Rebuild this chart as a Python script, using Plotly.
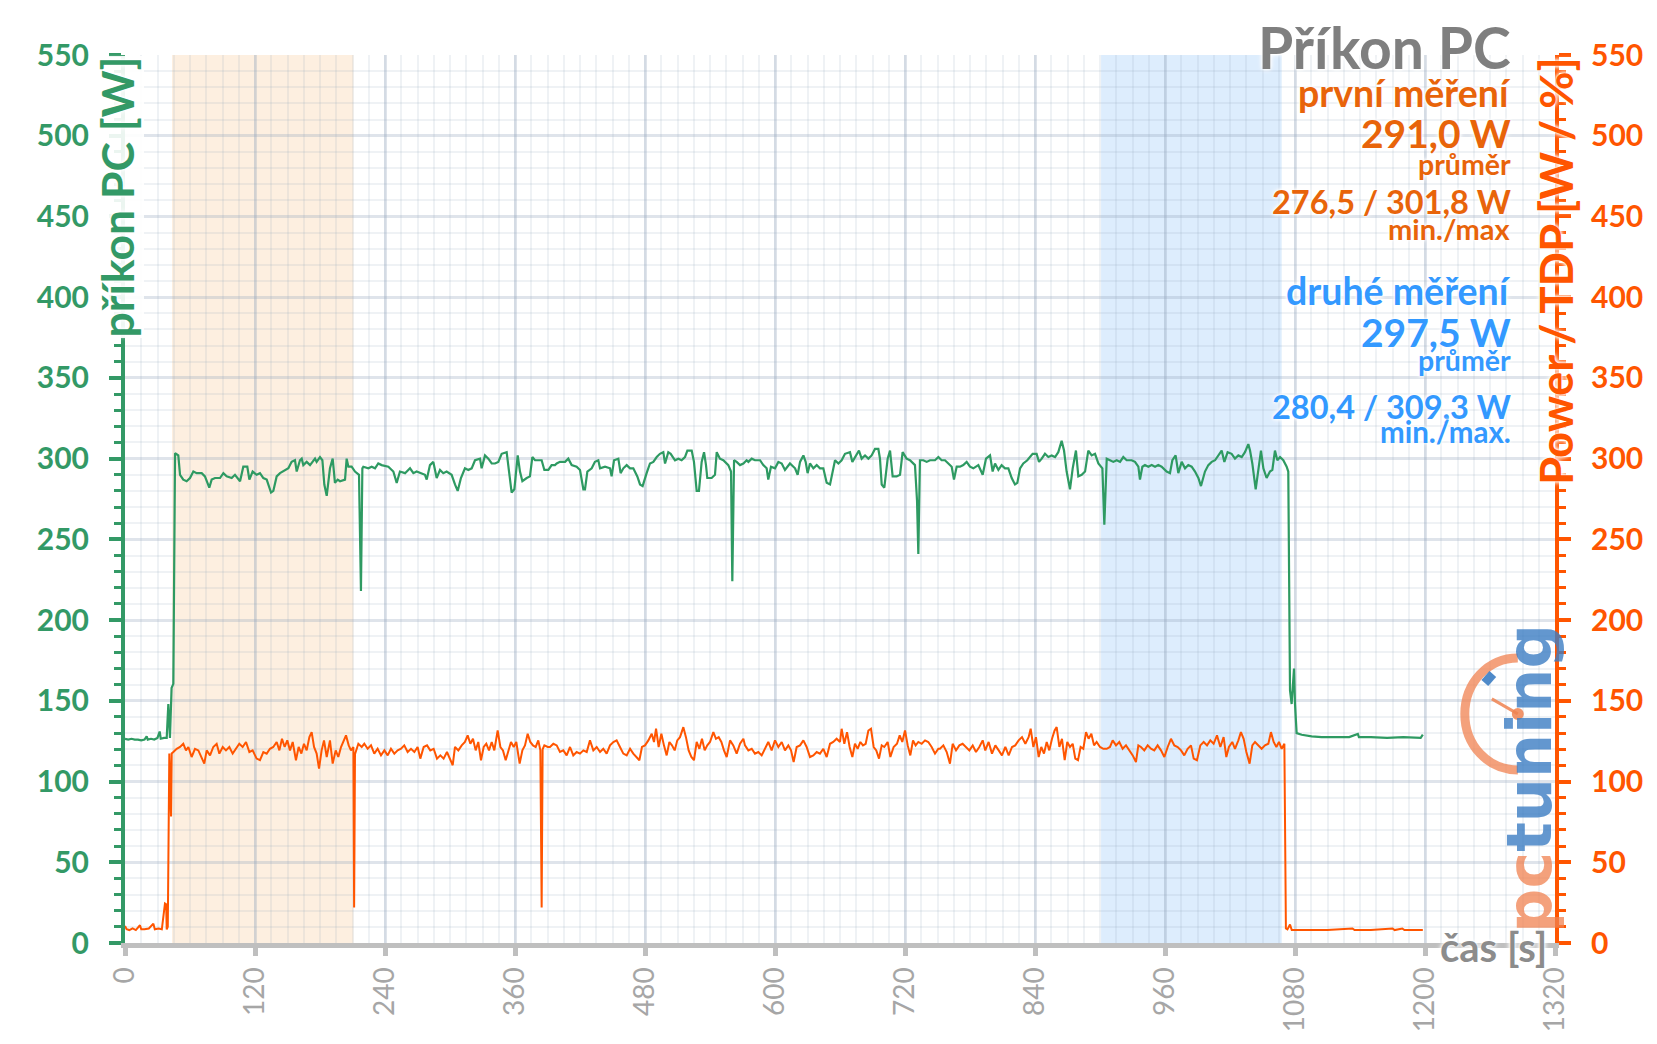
import plotly.graph_objects as go

# --- data ---
# system power draw, left axis [W]
pc_t = [0, 3, 6, 9, 12, 15, 18, 20, 21, 24, 27, 30, 32, 33, 36, 38.5, 40, 41.5, 43, 44.6,
        46.2, 49.2, 50.8, 53.8, 56.9, 60, 63.1, 66.2, 70.8, 73.8, 77.8, 80, 83.1, 87.7, 90.8,
        93.8, 98.5, 101.5, 106.2, 109.2, 112.9, 114.8, 117.8, 121.5, 124.6, 127.7, 130.8,
        134.8, 136.9, 140, 143.1, 147.7, 150.8, 153.8, 156.9, 158.5, 161.5, 163.1, 164.6,
        167.7, 170.8, 175.4, 176.9, 180, 182.2, 184, 186.2, 189.2, 191.7, 193.8, 196.3, 198.5,
        203.1, 204.6, 206.2, 209.2, 212.3, 216, 217.8, 219.1, 220, 224.6, 227.7, 230.8, 233.8,
        236.9, 243.1, 247.7, 250.8, 253.8, 258.5, 263.1, 266.2, 269.2, 272.3, 276.9, 278.5,
        281.5, 284.6, 287.7, 290.8, 293.8, 296.9, 301.5, 304.6, 307.1, 310.1, 313.8, 316.9,
        320, 323.1, 327.7, 329.2, 332.3, 335.4, 338.5, 341.5, 344.6, 347.7, 352.3, 354.5,
        356.9, 359.4, 362.5, 364.6, 366.8, 370.8, 373.8, 376, 378.5, 384.6, 387.1, 390.8,
        393.8, 396.9, 398.5, 401.5, 406.2, 409.2, 412.3, 416.9, 420, 423.1, 424.6, 426.8,
        430.8, 433.8, 436.9, 438.5, 443.1, 447.7, 449.2, 451.4, 455.4, 457.5, 460, 463.1,
        466.2, 469.2, 472.9, 475.4, 477.8, 481.5, 484.6, 487.7, 490.8, 493.8, 496.9, 498.5,
        501.5, 503.7, 507.7, 510.8, 513.8, 516.9, 519.1, 523.1, 525.2, 527.7, 529.8, 532.3,
        534.5, 536.3, 537.5, 541.5, 544.6, 546.2, 549.2, 552.3, 556.9, 559.4, 560.6, 562.2,
        564.6, 567.7, 570.8, 573.8, 575.4, 578.5, 581.5, 586.2, 589.2, 592.3, 593.8, 596.3,
        600, 603.1, 606.2, 609.2, 613.8, 618.5, 620.9, 623.1, 626.2, 628.3, 630.1, 632.3,
        635.4, 638.5, 641.5, 644.6, 647.7, 650.8, 653.2, 655.4, 658.5, 661.5, 664.6, 669.2,
        671.4, 674.5, 677.5, 680, 683.1, 686.2, 689.2, 692.3, 695.4, 696.9, 698.5, 700.9,
        704, 706.2, 708.6, 712.3, 715.4, 717.8, 721.5, 724.6, 729.2, 731.1, 732.3, 733.8,
        736.9, 740, 743.1, 747.7, 750.8, 753.8, 756.9, 760, 763.1, 765.2, 767.7, 770.8,
        773.8, 776.9, 780, 783.1, 787.7, 791.7, 794.8, 798.5, 800.9, 803.1, 806.2, 809.2,
        812.3, 815.4, 818.5, 821.5, 823.7, 826.2, 829.2, 832.9, 835.4, 837.8, 841.5, 843.7,
        846.2, 849.2, 852.3, 855.4, 858.5, 861.5, 864.6, 866.8, 869.2, 872.3, 874.8, 877.8,
        880, 883.1, 886.2, 889.2, 892.3, 895.4, 898.5, 902.2, 904, 906.2, 909.2, 912.3,
        915.4, 918.5, 921.5, 924.6, 929.2, 932.3, 935.4, 936.9, 939.1, 941.5, 944.6, 947.7,
        950.8, 953.8, 956.9, 961.5, 964.6, 966.8, 969.8, 972.3, 975.4, 978.5, 981.5, 984.6,
        987.7, 990.8, 993.2, 996.9, 1000, 1003.1, 1006.2, 1009.2, 1012.3, 1014.8, 1017.8,
        1021.5, 1024.6, 1027.7, 1030.8, 1033.8, 1036.9, 1038.5, 1040.6, 1043.7, 1046.2,
        1048.6, 1050.8, 1053.8, 1056.9, 1059.1, 1061.5, 1063.7, 1066.2, 1069.2, 1072.3,
        1073.8, 1075.4, 1076.9, 1079.1, 1080, 1081.5, 1086.2, 1095.4, 1104.6, 1116.9, 1130,
        1138, 1139, 1150, 1165, 1180, 1190, 1196, 1198]
pc_w = [126.5, 126, 126.5, 126, 126, 125.5, 126, 128, 126, 126.5, 126, 127, 131, 126.5, 127,
        127, 148, 127, 158, 160.5,
        303.4, 302, 290, 287, 286, 288, 292, 291, 291, 289, 282, 287, 288, 288, 291,
        289, 288, 290, 286, 295, 295, 287, 292, 290, 291, 288, 287,
        279, 280, 289, 291, 293, 294, 298, 299, 292, 299, 300, 296,
        298, 296, 300, 298, 301, 299, 284, 277, 294, 300, 285, 287, 286,
        287, 300, 295, 295, 292, 290, 218, 294, 295, 294, 295, 294, 297,
        296, 295, 292, 285, 292, 291, 294, 291, 292, 291, 290, 287,
        296, 298, 288, 293, 291, 292, 290, 284, 280, 288, 294, 293,
        294, 299, 300, 294, 302, 300, 297, 297, 298, 303, 304, 292,
        279, 281, 302, 292, 286, 288, 289, 301, 299, 299, 293, 293,
        296, 296, 297, 298, 298, 300, 296, 295, 293, 281, 281, 292,
        294, 298, 299, 294, 295, 294, 289, 299, 300, 291, 294, 296,
        294, 294, 289, 284, 283, 291, 297, 298, 301, 303, 304, 297,
        304, 303, 299, 300, 299, 301, 305, 305, 298, 280, 280, 298,
        304, 296, 288, 288, 290, 304, 300, 299, 296, 292, 224, 299,
        298, 296, 297, 299, 298, 300, 299, 299, 296, 294, 287, 295,
        294, 298, 297, 293, 297, 294, 290, 298, 302, 298, 291, 297,
        294, 296, 294, 294, 285, 284, 292, 299, 297, 299, 303, 304,
        298, 302, 305, 300, 302, 300, 302, 306, 306, 300, 284, 282,
        300, 305, 289, 289, 290, 304, 300, 299, 296, 274, 241, 299,
        299, 298, 299, 299, 301, 299, 299, 297, 295, 287, 295, 295,
        296, 298, 295, 294, 296, 290, 300, 302, 292, 297, 293, 296,
        294, 294, 288, 284, 285, 294, 297, 299, 301, 303, 303, 298,
        300, 303, 301, 302, 301, 304, 311, 305, 292, 281, 294, 305,
        289, 290, 292, 305, 302, 303, 297, 294, 259, 300, 299, 298,
        299, 298, 301, 299, 299, 298, 295, 287, 295, 296, 295, 296,
        295, 296, 295, 292, 291, 299, 302, 291, 298, 294, 296, 295,
        292, 288, 283, 292, 296, 298, 299, 302, 305, 298, 304,
        303, 300, 302, 301, 304, 309, 305, 297, 281, 294,
        305, 294, 288, 292, 293, 305, 299, 301, 299, 295,
        292, 156.5, 148, 170, 148, 130, 129, 128, 127.5, 127.5, 127.5,
        129.5, 127.5, 127.5, 127, 127.5, 127, 127, 129]

# Power / TDP, right axis [W / %]
tdp_t = [0, 1.5, 4, 7, 10, 13.8, 15, 18, 22, 26.2, 27.5, 31, 34, 36.9, 38, 38.5, 39.5, 40.9,
         42.5, 43.1, 44.6, 47.7, 50.8, 53.8, 56.3, 58.5, 61.5, 64.6, 67.7, 70.8, 73.2, 75.4,
         78.5, 81.5, 84.6, 87.1, 90.2, 93.2, 96.3, 99.4, 102.5, 105.5, 108.6, 111.7, 114.8,
         117.8, 121.5, 124.6, 127.7, 130.8, 133.8, 136.9, 140, 142.5, 144.9, 147.4, 149.8,
         152.3, 154.8, 157.8, 160.3, 162.8, 165.2, 167.7, 170.2, 172.3, 174.5, 176.9, 179.1,
         181.5, 183.7, 186.2, 189.2, 191.7, 194.5, 196.9, 199.4, 201.5, 204, 206.5, 208.6,
         210.8, 211.5, 212.3, 215.4, 218.5, 220.9, 224, 227.1, 230.1, 233.2, 236.3, 239.4,
         242.5, 245.5, 248.6, 251.7, 254.8, 257.8, 260.9, 264, 267.1, 270.1, 272.6, 275.7,
         278.8, 281.8, 284.9, 288, 291.1, 294.1, 297.2, 300.3, 302.5, 304.6, 307.7, 310.8,
         313.8, 316.3, 318.8, 321.2, 323.7, 326.1, 328.6, 331.1, 333.5, 336, 338.5, 340.9,
         344, 346.5, 348.9, 351.4, 353.8, 356.3, 358.8, 361.2, 364.3, 366.8, 369.2, 371.7,
         374.1, 376.6, 379.1, 381.5, 383.4, 384.6, 385.5, 387.1, 390.2, 392.3, 395.4, 398.5,
         401.5, 404.6, 407.7, 410.8, 413.8, 416.9, 420, 423.1, 426.2, 429.2, 432.3, 435.4,
         438.5, 441.5, 444.6, 447.7, 450.8, 453.8, 456.9, 460, 463.1, 466.2, 469.2, 472.3,
         474.8, 477.2, 480, 483.1, 486.2, 488.3, 490.2, 492.6, 495.1, 497.5, 500, 502.5,
         504.9, 507.4, 509.8, 512.3, 515.4, 517.8, 520.3, 522.8, 525.2, 527.7, 530.2, 532.6,
         535.1, 537.5, 540, 543.1, 545.5, 548, 550.5, 552.9, 555.4, 558.5, 561.5, 564.6,
         567.7, 570.8, 572.3, 575.4, 578.5, 581.5, 584.6, 587.7, 590.8, 593.8, 596.9, 600,
         603.1, 606.2, 609.2, 612.3, 614.8, 617.2, 620, 623.1, 626.2, 629.2, 632.3, 635.4,
         638.5, 641.5, 644.6, 647.7, 650.8, 653.8, 656.9, 660, 661.5, 664, 666.5, 668.9,
         671.4, 673.8, 676.3, 678.8, 681.2, 683.7, 686.2, 688.6, 691.1, 693.5, 696, 698.5,
         700.9, 704, 706.5, 709.5, 712.6, 715.1, 717.5, 720, 722.5, 724.9, 727.4, 729.8,
         732.3, 735.4, 738.5, 741.5, 744.6, 747.7, 750.8, 752.3, 755.4, 758.5, 761.5, 764,
         767.1, 770.2, 773.2, 776.3, 779.4, 782.5, 785.5, 788.6, 791.7, 794.1, 797.2, 800.3,
         803.4, 806.5, 809.5, 812.6, 815.7, 818.8, 821.8, 824.9, 828, 831.1, 834.1, 836,
         838.5, 840.9, 843.4, 845.8, 848.3, 850.8, 853.2, 855.7, 858.1, 860, 862.5, 864.9,
         867.4, 869.8, 872.3, 874.8, 877.2, 879.7, 882.1, 884.6, 887.1, 889.5, 892, 894.5,
         896.9, 900, 903.1, 906.2, 909.2, 911.7, 914.8, 917.8, 920.9, 924, 927.1, 930.2,
         933.2, 935.4, 937.8, 940.9, 944, 947.1, 950.1, 953.2, 956.3, 959.4, 962.5, 965.5,
         968.6, 971.7, 974.8, 977.8, 980.9, 984, 986.5, 989.5, 992.6, 995.7, 998.8, 1001.8,
         1004.9, 1008, 1011.1, 1014.1, 1016.6, 1019, 1022.1, 1024.6, 1027.7, 1030.1, 1032.6,
         1035.1, 1038.1, 1040.6, 1043.1, 1046.2, 1049.2, 1052.3, 1055.4, 1057.8, 1060.3,
         1062.8, 1065.2, 1067.7, 1070.2, 1071.6, 1073, 1075.4, 1077, 1090, 1110, 1133, 1135,
         1150, 1170, 1172, 1179, 1181, 1198]
tdp_v = [10.5, 8.5, 8, 9, 8, 11, 8.5, 8.5, 9, 12, 8.5, 9, 8.5, 24.5, 24, 8.4, 10, 117.4,
         78.3, 117.4, 118.3, 120.3, 121.4, 123.4, 119.3, 121.4, 115.2, 120.3, 119.3, 115.2, 111.1, 119.3,
         116.2, 121.4, 123.4, 117.3, 121.4, 119.3, 121.4, 117.3, 120.3, 123.4, 121.4, 124.5, 118.3,
         119.3, 114.2, 113.2, 118.3, 117.3, 120.3, 121.4, 124.5, 119.3, 126.5, 121.4, 125.5,
         119.3, 124.5, 113.2, 121.4, 117.3, 123.4, 119.3, 127.5, 130.6, 121.4, 117.3, 108,
         119.3, 125.5, 115.2, 125.5, 111.1, 119.3, 115.2, 121.4, 124.5, 128.6, 122.4, 119.3,
         121.4, 22, 117, 123.4, 121.4, 123.4, 120.3, 122.4, 117.3, 120.3, 116.2, 119.3,
         116.2, 120.3, 117.3, 119.3, 120.3, 122.4, 118.3, 120.3, 118.3, 121.4, 114.2, 121.4,
         122.4, 119.3, 120.3, 114.2, 116.2, 114.2, 118.3, 113.2, 110.1, 121.4, 119.3, 122.4,
         124.5, 128.6, 123.4, 126.5, 119.3, 124.5, 113.2, 121.4, 123.4, 119.3, 124.5, 119.3,
         131.6, 121.4, 119.3, 113.2, 119.3, 124.5, 121.4, 124.5, 111.1, 119.3, 122.4, 129.6,
         124.5, 122.4, 121.4, 125.5, 119.3, 22, 120, 122.4, 121.4, 121.4, 123.4, 122.4,
         118.3, 119.3, 116.2, 121.4, 116.2, 118.3, 117.3, 119.3, 118.3, 125.5, 119.3, 121.4,
         118.3, 120.3, 117.3, 122.4, 124.5, 125.5, 121.4, 117.3, 116.2, 120.3, 117.3, 115.2,
         113.2, 121.4, 122.4, 125.5, 129.6, 124.5, 132.7, 121.4, 129.6, 122.4, 116.2, 124.5,
         122.4, 119.3, 125.5, 127.5, 133.7, 127.5, 119.3, 115.2, 113.2, 124.5, 120.3, 126.5,
         119.3, 122.4, 124.5, 130.6, 126.5, 127.5, 124.5, 119.3, 115.2, 125.5, 122.4, 117.3,
         123.4, 126.5, 122.4, 119.3, 120.3, 117.3, 118.3, 116.2, 120.3, 124.5, 119.3, 125.5,
         121.4, 124.5, 119.3, 122.4, 119.3, 112.1, 121.4, 122.4, 125.5, 121.4, 115.2, 116.2,
         118.3, 117.3, 120.3, 115.2, 123.4, 124.5, 126.5, 124.5, 132.7, 123.4, 130.6, 121.4,
         115.2, 123.4, 120.3, 124.5, 122.4, 123.4, 131.6, 132.7, 121.4, 119.3, 114.2, 122.4,
         121.4, 124.5, 115.2, 121.4, 123.4, 128.6, 124.5, 131.6, 122.4, 116.2, 125.5, 122.4,
         124.5, 123.4, 125.5, 124.5, 121.4, 117.3, 120.3, 120.3, 122.4, 118.3, 111.1, 123.4,
         119.3, 122.4, 123.4, 121.4, 119.3, 122.4, 118.3, 121.4, 125.5, 119.3, 124.5, 117.3,
         122.4, 119.3, 116.2, 121.4, 116.2, 121.4, 122.4, 125.5, 127.5, 123.4, 127.5, 132.7,
         121.4, 127.5, 115.2, 121.4, 117.3, 124.5, 119.3, 126.5, 131.6, 133.7, 121.4, 126.5,
         113.2, 124.5, 121.4, 123.4, 114.2, 113.2, 121.4, 120.3, 130.6, 126.5, 129.6, 122.4,
         124.5, 121.4, 120.3, 120.3, 121.4, 125.5, 122.4, 124.5, 120.3, 122.4, 119.3, 116.2,
         112.1, 122.4, 121.4, 119.3, 122.4, 120.3, 119.3, 122.4, 119.3, 115.2, 121.4, 126.5,
         122.4, 121.4, 119.3, 116.2, 120.3, 122.4, 114.2, 113.2, 122.4, 124.5, 122.4, 125.5,
         123.4, 128.6, 121.4, 127.5, 115.2, 121.4, 124.5, 120.3, 125.5, 130.6, 126.5,
         118.3, 111.1, 122.4, 124.5, 122.4, 120.3, 122.4, 123.4, 130.6, 124.5,
         121.4, 124.5, 120.3, 123.4, 9, 8.4, 11.5, 8, 8, 8, 9, 8,
         8, 9, 8, 9, 8, 8]

# highlighted measurement windows [s]
first_window = [43.4, 210.8]
second_window = [901, 1067.7]

x_ticks = list(range(0, 1321, 120))

GREEN = "#339966"
GREEN_LINE = "#2E9A62"
ORANGE = "#FF5500"
ORANGE_TXT = "#E8640A"
BLUE = "#3399FF"
GRAY = "#A6A6A6"
FONT = "Lato"
GLOW = "0 0 3px #fff, 0 0 4px #fff, 0 0 6px #fff"
GRID = "rgba(150,165,190,0.3)"
GRID_MINOR = "rgba(150,165,190,0.15)"

fig = go.Figure()
fig.add_trace(go.Scatter(x=pc_t, y=pc_w, mode="lines", line=dict(color=GREEN_LINE, width=2.2),
                         showlegend=False))
fig.add_trace(go.Scatter(x=tdp_t, y=tdp_v, mode="lines", line=dict(color=ORANGE, width=2),
                         yaxis="y2", showlegend=False))

fig.add_vrect(x0=first_window[0], x1=first_window[1], fillcolor="#FDEFE0",
              line_width=0, layer="below")
fig.add_vrect(x0=second_window[0], x1=second_window[1], fillcolor="#DDEDFD",
              line_width=0, layer="below")

# pctuning watermark (gauge)
px_shape = dict(xref="paper", yref="paper", xsizemode="pixel", ysizemode="pixel",
                xanchor=0.974, yanchor=0.258)
fig.add_shape(type="path", path="M 0,56 C -30,56 -53,31 -53,0 C -53,-31 -30,-56 0,-56",
              line=dict(color="rgba(240,130,80,0.75)", width=9), **px_shape)
fig.add_shape(type="path", path="M 0,0 L -26,15", line=dict(color="rgba(240,130,80,0.85)", width=3),
              **px_shape)
fig.add_shape(type="circle", x0=-6, y0=-6, x1=6, y1=6, fillcolor="rgba(240,130,80,0.85)",
              line_width=0, **px_shape)
fig.add_shape(type="path", path="M -33,31 L -25,40", line=dict(color="rgba(60,125,195,0.9)", width=9),
              **px_shape)

ann = [
    dict(text="Příkon PC", y=1.009, size=57, color="#7F7F7F"),
    dict(text="první měření", y=0.958, size=37.5, color=ORANGE_TXT),
    dict(text="291,0 W", y=0.9124, size=39, color=ORANGE_TXT),
    dict(text="průměr", y=0.8769, size=28.5, color=ORANGE_TXT),
    dict(text="276,5 / 301,8 W", y=0.8345, size=32.5, color=ORANGE_TXT),
    dict(text="min./max", y=0.805, size=29, color=ORANGE_TXT),
    dict(text="druhé měření", y=0.7344, size=37.5, color=BLUE),
    dict(text="297,5 W", y=0.6881, size=39, color=BLUE),
    dict(text="průměr", y=0.6565, size=28.5, color=BLUE),
    dict(text="280,4 / 309,3 W", y=0.6037, size=32.5, color=BLUE),
    dict(text="min./max.", y=0.5765, size=29.5, color=BLUE),
]
for a in ann:
    fig.add_annotation(text=a["text"], x=0.9708, y=a["y"], xref="paper", yref="paper",
                       xanchor="right", yanchor="middle", showarrow=False,
                       font=dict(family=FONT, size=a["size"], color=a["color"], weight="bold",
                                 shadow=GLOW))

# axis titles
fig.add_annotation(text="příkon PC [W]", x=-0.0056, y=1.0, xref="paper", yref="paper",
                   xanchor="center", yanchor="top", textangle=-90, showarrow=False,
                   bgcolor="rgba(255,255,255,0.9)", borderpad=0,
                   font=dict(family=FONT, size=44.5, color=GREEN, weight="bold", shadow=GLOW))
fig.add_annotation(text="Power / TDP [W / %]", x=1.0, y=1.0, xref="paper", yref="paper",
                   xanchor="center", yanchor="top", textangle=-90, showarrow=False,
                   font=dict(family=FONT, size=45.5, color=ORANGE, weight="bold", shadow=GLOW))
fig.add_annotation(text="čas [s]", x=0.996, y=-0.004, xref="paper", yref="paper",
                   xanchor="right", yanchor="middle", showarrow=False,
                   font=dict(family=FONT, size=40, color="#8C8C8C", weight="bold", shadow=GLOW))
fig.add_annotation(text="<span style='color:rgba(240,130,80,0.75)'>pc</span>"
                        "<span style='color:rgba(60,125,195,0.8)'>tuning</span>",
                   x=0.982, y=0.185, xref="paper", yref="paper", xanchor="center",
                   yanchor="middle", textangle=-90, showarrow=False,
                   font=dict(family="DejaVu Sans", size=62, weight="bold"))

fig.update_layout(
    width=1657, height=1044,
    margin=dict(l=125, r=102, t=55, b=97),
    paper_bgcolor="white", plot_bgcolor="white",
    font=dict(family=FONT),
    xaxis=dict(range=[0, 1320], tickmode="array", tickvals=x_ticks,
               tickangle=-90, tickfont=dict(family=FONT, size=28, color=GRAY),
               showline=True, linecolor="#BFBFBF", linewidth=5,
               ticks="outside", tickcolor="#BFBFBF", tickwidth=5, ticklen=8,
               showgrid=True, gridcolor=GRID, gridwidth=2.5, zeroline=False,
               minor=dict(dtick=15, showgrid=True, gridcolor=GRID_MINOR, gridwidth=2)),
    yaxis=dict(range=[0, 550], dtick=50, tickfont=dict(family=FONT, size=30, color=GREEN, weight="bold"),
               showline=True, linecolor=GREEN, linewidth=4,
               ticks="outside", tickcolor=GREEN, tickwidth=4, ticklen=12, ticklabelstandoff=14,
               showgrid=True, gridcolor=GRID, gridwidth=2.5, zeroline=False,
               minor=dict(dtick=10, ticks="outside", ticklen=7, tickwidth=3, tickcolor=GREEN,
                          showgrid=True, gridcolor=GRID_MINOR, gridwidth=2)),
    yaxis2=dict(range=[0, 550], dtick=50, overlaying="y", side="right",
                tickfont=dict(family=FONT, size=30, color=ORANGE, weight="bold"),
                showline=True, linecolor=ORANGE, linewidth=4,
                ticks="outside", tickcolor=ORANGE, tickwidth=4, ticklen=12, ticklabelstandoff=14,
                showgrid=False, zeroline=False,
                minor=dict(dtick=10, ticks="outside", ticklen=7, tickwidth=3, tickcolor=ORANGE)),
)

fig.write_html("out.html", config={"displayModeBar": False},
               post_script="document.body.style.margin='0px';")
